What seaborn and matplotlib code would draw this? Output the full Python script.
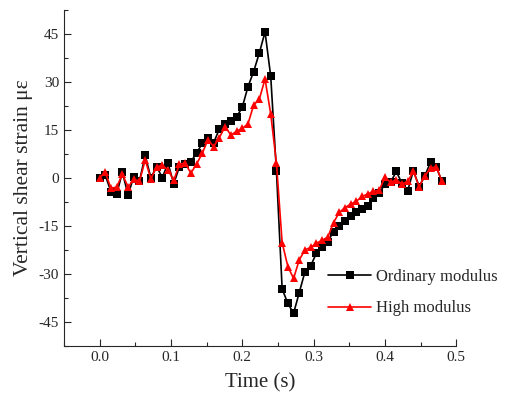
import numpy as np
import pandas as pd
import matplotlib
matplotlib.use("Agg")
import matplotlib.pyplot as plt
from matplotlib.ticker import MultipleLocator
import seaborn as sns

# Tidsaxel (s), sampling ca 0.008 s
time = np.round(np.arange(61) * 0.008, 3)

# Vanlig modul (svarta fyrkanter)
ordinary = [0.0, 0.8, -4.3, -5.0, 1.7, -5.3, 0.4, -0.9, 7.0, 0.0,
            3.5, 0.1, 4.6, -1.9, 3.5, 4.4, 5.1, 7.7, 10.8, 12.6,
            11.0, 15.3, 16.9, 17.9, 19.0, 22.0, 28.4, 33.2, 39.0, 45.6,
            31.7, 2.0, -34.7, -39.2, -42.3, -35.8, -29.3, -27.5, -23.5, -21.7,
            -19.9, -16.8, -15.0, -13.6, -12.0, -10.8, -9.8, -8.8, -6.4, -4.8,
            -2.0, -1.4, 2.0, -1.7, -4.0, 2.3, -2.7, 0.6, 4.9, 3.5,
            -1.1]

# Hög modul (röda trianglar)
high = [0.0, 1.7, -3.2, -2.9, 1.2, -2.9, -0.4, -1.1, 5.6, -0.3,
        3.5, 3.9, 2.5, -0.8, 4.3, 4.6, 1.5, 4.3, 7.7, 11.9,
        9.8, 12.6, 16.0, 13.4, 14.5, 15.5, 16.8, 22.7, 24.6, 30.9,
        19.9, 4.6, -20.2, -27.7, -31.4, -25.6, -22.5, -21.7, -20.4, -19.5,
        -18.5, -14.0, -10.8, -9.3, -8.2, -7.3, -5.8, -5.0, -4.2, -3.9,
        0.2, -1.4, -0.6, -1.9, -1.1, 2.0, -2.7, 0.6, 3.0, 3.5,
        -1.1]

labels = ["Ordinary modulus", "High modulus"]

sns.set_style("ticks")
plt.rcParams['font.family'] = ['Liberation Serif', 'DejaVu Serif']
plt.rcParams['axes.unicode_minus'] = False

df = pd.DataFrame({"Time": time, labels[0]: ordinary, labels[1]: high})
long_df = df.melt(id_vars="Time", var_name="Serie", value_name="Strain")

fig = plt.figure(figsize=(5.28, 4.08), dpi=100)
ax = fig.add_axes([0.121, 0.152, 0.743, 0.824])

sns.lineplot(data=long_df, x="Time", y="Strain", hue="Serie", style="Serie",
             palette=["black", "red"], markers=["s", "^"], dashes=False,
             markersize=6, markeredgewidth=0, linewidth=1.2, ax=ax)

ax.set_xlim(-0.05, 0.5)
ax.set_ylim(-52.5, 52.5)
ax.set_xticks([0.0, 0.1, 0.2, 0.3, 0.4, 0.5])
ax.set_xticklabels(["0.0", "0.1", "0.2", "0.3", "0.4", "0.5"])
ax.set_yticks([-45, -30, -15, 0, 15, 30, 45])
ax.xaxis.set_minor_locator(MultipleLocator(0.05))
ax.yaxis.set_minor_locator(MultipleLocator(7.5))
ax.tick_params(which="both", direction="in", labelsize=11, width=0.8)
ax.tick_params(which="major", length=5)
ax.tick_params(which="minor", length=3)
sns.despine(ax=ax)

ax.set_xlabel("Time (s)", fontsize=15, labelpad=7)
ax.set_ylabel("Vertical shear strain με", fontsize=15.5)

ax.legend(title=None, frameon=False, fontsize=12, loc="upper left",
          bbox_to_anchor=(0.673, 0.23), borderpad=0, borderaxespad=0,
          handlelength=2.6, handletextpad=0.3, labelspacing=0.95)

fig.savefig("out.png", dpi=100)
